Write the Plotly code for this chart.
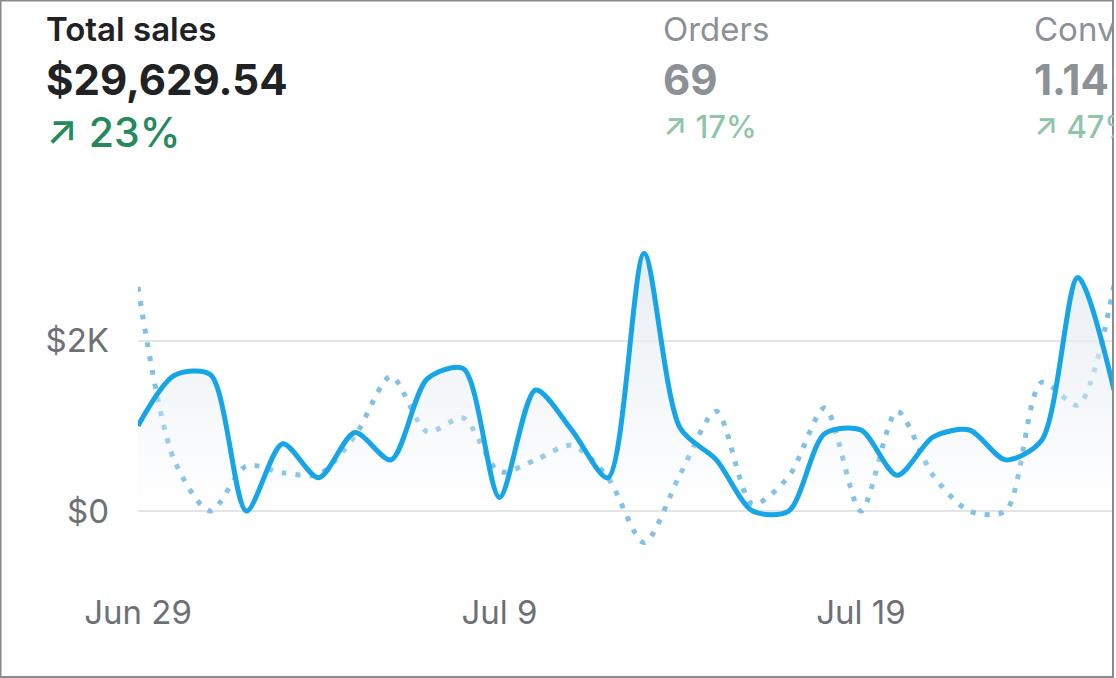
import plotly.graph_objects as go

# ---------------- data ----------------
dates = [
    "2023-06-29", "2023-06-30", "2023-07-01", "2023-07-02", "2023-07-03", "2023-07-04", "2023-07-05",
    "2023-07-06", "2023-07-07", "2023-07-08", "2023-07-09", "2023-07-10", "2023-07-11", "2023-07-12",
    "2023-07-13", "2023-07-14", "2023-07-15", "2023-07-16", "2023-07-17", "2023-07-18", "2023-07-19",
    "2023-07-20", "2023-07-21", "2023-07-22", "2023-07-23", "2023-07-24", "2023-07-25", "2023-07-26",
]
sales_current = [1000, 1590, 1600, 0, 790, 390, 920, 600, 1550, 1670, 160, 1420, 950, 390,
                 3020, 970, 600, 0, 0, 910, 950, 420, 870, 950, 600, 830, 2740, 1420]
sales_previous = [2630, 600, 0, 530, 450, 430, 880, 1580, 930, 1090, 460, 600, 770, 390,
                  -370, 430, 1170, 80, 405, 1210, 0, 1170, 414, 0, 0, 1510, 1243, 2650]

y_tick_values = [0, 2000]
y_tick_labels = ["$0", "$2K"]
x_tick_dates = ["2023-06-29", "2023-07-09", "2023-07-19"]
x_tick_labels = ["Jun 29", "Jul 9", "Jul 19"]

metric_titles = ["Total sales", "Orders", "Conversion rate"]
metric_values = ["$29,629.54", "69", "1.14%"]
metric_changes = ["↗ 23%", "↗ 17%", "↗ 47%"]

# ---------------- layout geometry ----------------
W, H = 1114, 678
L, R, T, B = 138, 0, 240, 98
PW, PH = W - L - R, H - T - B


def px(x):
    return (x - L) / PW


def py(y):
    return (H - B - y) / PH


FONT = "Inter, 'Open Sans', sans-serif"

fig = go.Figure()
fig.add_trace(go.Scatter(
    x=dates, y=sales_previous, mode="lines",
    line=dict(color="#80c1e4", width=5, dash="5px,9px", shape="spline", smoothing=0.8),
    hoverinfo="skip", showlegend=False,
))
fig.add_trace(go.Scatter(
    x=dates, y=sales_current, mode="lines",
    line=dict(color="#16a5e6", width=5, shape="spline", smoothing=0.8),
    fill="tozeroy",
    fillgradient=dict(type="vertical", start=0, stop=3000,
                      colorscale=[[0, "rgba(232,238,244,0)"], [1, "rgba(232,238,244,1)"]]),
    hoverinfo="skip", showlegend=False,
))

fig.update_xaxes(
    range=[dates[0], dates[-1]], tickvals=x_tick_dates, ticktext=x_tick_labels,
    showgrid=False, zeroline=False, showline=False, ticks="",
    tickfont=dict(family=FONT, size=33, color="#6d7175"), ticklabelstandoff=10,
)
fig.update_yaxes(
    range=[-809, 3179], tickvals=y_tick_values, ticktext=y_tick_labels,
    showgrid=True, gridcolor="#e3e4e6", gridwidth=2, zeroline=False, showline=False, ticks="",
    tickfont=dict(family=FONT, size=33, color="#6d7175"), ticklabelstandoff=28,
)

annotations = []
cols_x = [44, 661, 1032]
title_colors = ["#202223", "#8c9196", "#8c9196"]
value_colors = ["#202223", "#8c9196", "#8c9196"]
change_colors = ["#248a5c", "#8ec5a7", "#8ec5a7"]
change_sizes = [41, 31, 31]
change_y = [132, 126, 126]
for i in range(3):
    annotations.append(dict(
        x=px(cols_x[i]), y=py(29), xref="paper", yref="paper", xanchor="left", yanchor="middle",
        text=metric_titles[i], showarrow=False,
        font=dict(family=FONT, size=33, color=title_colors[i], weight=600 if i == 0 else 400),
    ))
    annotations.append(dict(
        x=px(cols_x[i]), y=py(80), xref="paper", yref="paper", xanchor="left", yanchor="middle",
        text=metric_values[i], showarrow=False,
        font=dict(family=FONT, size=42, color=value_colors[i], weight=700),
    ))
    annotations.append(dict(
        x=px(cols_x[i]), y=py(change_y[i]), xref="paper", yref="paper", xanchor="left", yanchor="middle",
        text=metric_changes[i], showarrow=False,
        font=dict(family=FONT, size=change_sizes[i], color=change_colors[i], weight=500),
    ))

fig.update_layout(
    width=W, height=H,
    margin=dict(l=L, r=R, t=T, b=B, pad=0),
    paper_bgcolor="white", plot_bgcolor="white",
    annotations=annotations,
    showlegend=False,
    hovermode=False,
    shapes=[dict(type="rect", xref="paper", yref="paper",
                 x0=px(0.5), x1=px(1113), y0=py(677), y1=py(0.5),
                 line=dict(color="#8a8a8a", width=2), fillcolor="rgba(0,0,0,0)", layer="above")],
)

fig.write_html("out.html", config={"displayModeBar": False},
               post_script="document.body.style.margin='0';")
